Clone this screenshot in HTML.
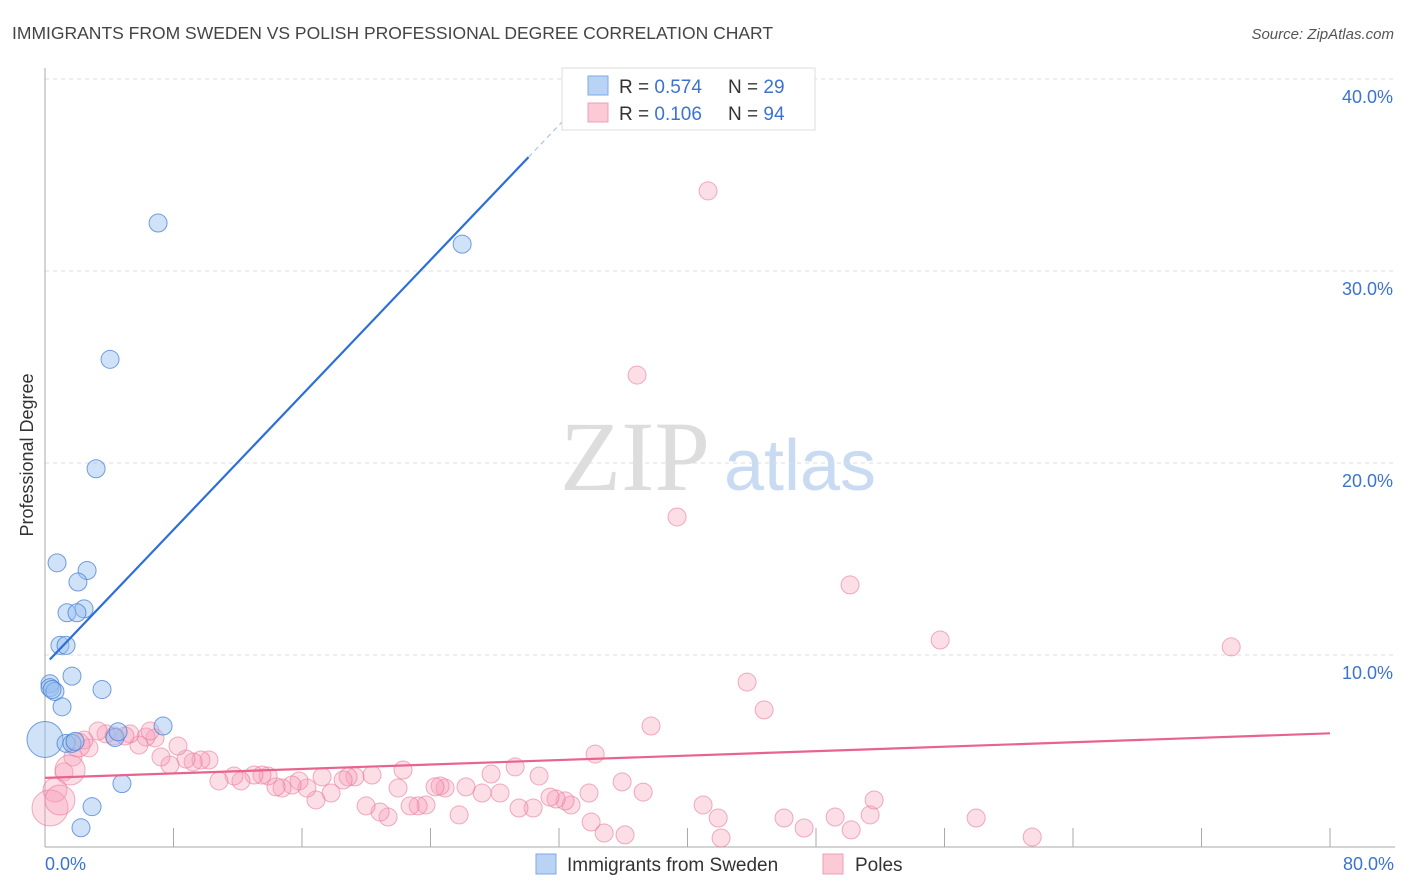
<!DOCTYPE html>
<html><head><meta charset="utf-8"><style>
body{margin:0;background:#fff;font-family:"Liberation Sans",sans-serif;}
svg{display:block}
</style></head><body>
<svg id="chart" width="1406" height="892">
<text x="12" y="39" font-size="17.5" fill="#444">IMMIGRANTS FROM SWEDEN VS POLISH PROFESSIONAL DEGREE CORRELATION CHART</text>
<text x="1394" y="39" font-size="15" fill="#555" font-style="italic" text-anchor="end">Source: ZipAtlas.com</text>
<g>
<text x="635" y="490" font-size="100" fill="#ddd" font-family="Liberation Serif,serif" text-anchor="middle">ZIP</text>
<text x="800" y="490" font-size="72" fill="#c9daf3" text-anchor="middle">atlas</text>
</g>
<g id="grid"></g>
<g id="axes"></g>
<g id="pts"></g>
<g id="lines"></g>
<text transform="translate(33,455) rotate(-90)" font-size="18" fill="#333" text-anchor="middle">Professional Degree</text>
<text x="45" y="870" font-size="18" fill="#3b73d1">0.0%</text>
<text x="1394" y="870" font-size="18" fill="#3b73d1" text-anchor="end">80.0%</text>
<g>
<rect x="562" y="68" width="253" height="62" fill="#fff" stroke="#ddd"/>
<rect x="588" y="76" width="20" height="19" fill="#b9d3f5" stroke="#7ea8e6"/>
<rect x="588" y="103" width="20" height="19" fill="#fcc9d6" stroke="#eda0b6"/>
<text x="619" y="93" font-size="19" fill="#333">R = <tspan fill="#3b73d1">0.574</tspan></text>
<text x="728" y="93" font-size="19" fill="#333">N = <tspan fill="#3b73d1">29</tspan></text>
<text x="619" y="120" font-size="19" fill="#333">R = <tspan fill="#3b73d1">0.106</tspan></text>
<text x="728" y="120" font-size="19" fill="#333">N = <tspan fill="#3b73d1">94</tspan></text>
</g>
<g>
<rect x="536" y="854" width="20" height="20" fill="#b9d3f5" stroke="#7ea8e6"/>
<text x="567" y="871" font-size="19" fill="#333">Immigrants from Sweden</text>
<rect x="823" y="854" width="20" height="20" fill="#fcc9d6" stroke="#eda0b6"/>
<text x="855" y="871" font-size="19" fill="#333">Poles</text>
</g>
</svg>
<script>
const yTicks=[10,20,30,40];
const xTicks=[0,8,16,24,32,40,48,56,64,72,80];
const swedenX=[7.04,25.97,4.05,3.18,0.75,2.62,2.05,1.37,2.43,1.99,0.93,1.31,1.68,3.55,0.31,0.31,0.62,1.06,0,1.31,1.68,4.36,4.55,7.35,4.79,2.93,2.24,1.87,0.44];
const swedenY=[32.5,31.4,25.4,19.7,14.8,14.4,13.8,12.2,12.4,12.2,10.5,10.5,8.9,8.2,8.5,8.3,8.1,7.3,5.6,5.4,5.4,5.7,6.0,6.3,3.3,2.1,1.0,5.5,8.2];
const swedenR=[9,9,9,9,9,9,9,9,9,9,9,9,9,9,9,9,9,9,18,9,9,9,9,9,9,9,9,9,9];
const polesPx=[[708,191],[637,375],[677,517],[850,585],[940,640],[1231,647],[747,682],[764,710],[651,726],[595,754],[1032,837],[976,818],[870,815],[851,830],[835,817],[804,828],[784,818],[718,818],[703,805],[874,800],[721,838],[643,792],[622,782],[625,835],[604,833],[591,822],[571,805],[589,793],[565,801],[556,799],[550,797],[539,776],[533,808],[519,808],[515,767],[500,793],[491,774],[482,793],[466,787],[459,815],[445,788],[440,786],[435,787],[426,805],[418,806],[410,806],[403,770],[398,788],[388,817],[380,812],[372,775],[366,806],[355,777],[348,777],[343,780],[331,793],[322,777],[316,800],[307,788],[299,781],[292,785],[282,788],[276,787],[268,776],[262,775],[254,775],[241,781],[234,776],[219,781],[209,760],[201,760],[193,762],[186,759],[178,746],[170,765],[161,757],[155,738],[146,737],[139,745],[130,734],[125,736],[114,736],[106,734],[98,731],[89,748],[84,740],[73,757],[64,772],[55,790],[50,808],[70,770],[78,745],[60,800],[150,731]];
const polesX=polesPx.map(p=>+((p[0]-45)/16.06).toFixed(2));
const polesY=polesPx.map(p=>+((847-p[1])/19.2).toFixed(2));
const polesR=polesX.map((x,i)=>i==89?18:(i==90||i==92)?15:(i==88||i==91)?12:9);
const swedenFit=[9.5,0.878];
const polesFit=[3.6,0.029];

const X=v=>45+v*1285/80, Y=v=>847-v*19.2;
const NS="http://www.w3.org/2000/svg";
function mk(tag,attrs,parent){const e=document.createElementNS(NS,tag);for(const k in attrs)e.setAttribute(k,attrs[k]);parent.appendChild(e);return e;}
const grid=document.getElementById('grid'),axes=document.getElementById('axes'),pts=document.getElementById('pts'),lines=document.getElementById('lines');
yTicks.forEach(t=>{
 const l=mk('line',{x1:45,x2:1395,y1:Y(t),y2:Y(t),stroke:'#ddd','stroke-dasharray':'4,4'},grid);
 
 
 const tx=mk('text',{x:1393,y:Y(t)+24,'font-size':18,fill:'#3b73d1','text-anchor':'end'},grid);
 tx.textContent=t.toFixed(1)+'%';
 
 
});
const ya=mk('line',{x1:45,x2:45,y1:68,y2:847,stroke:'#aaa'},axes);


const xa=mk('line',{x1:45,x2:1395,y1:847,y2:847,stroke:'#aaa'},axes);


xTicks.forEach(t=>{
 const l=mk('line',{x1:X(t),x2:X(t),y1:828,y2:847,stroke:'#aaa'},axes);
 
 
});
polesX.forEach((x,i)=>{
 const c=mk('circle',{cx:X(x),cy:Y(polesY[i]),r:polesR[i],fill:'rgba(247,160,185,0.35)',stroke:'rgba(232,120,155,0.6)','stroke-width':1},pts);
 
 
});
swedenX.forEach((x,i)=>{
 const c=mk('circle',{cx:X(x),cy:Y(swedenY[i]),r:swedenR[i],fill:'rgba(150,190,240,0.45)',stroke:'rgba(60,120,210,0.7)','stroke-width':1},pts);
 
 
});
const bl=mk('line',{x1:X(0.3),y1:Y(swedenFit[0]+swedenFit[1]*0.3),x2:X(30.1),y2:Y(swedenFit[0]+swedenFit[1]*30.1),stroke:'#2c6fd6','stroke-width':2.2},lines);


const bd=mk('line',{x1:X(30.1),y1:Y(swedenFit[0]+swedenFit[1]*30.1),x2:X(33),y2:Y(swedenFit[0]+swedenFit[1]*33),stroke:'#9bbbe8','stroke-width':1,'stroke-dasharray':'5,4'},lines);


const pl=mk('line',{x1:X(0),y1:Y(polesFit[0]),x2:X(80),y2:Y(polesFit[0]+polesFit[1]*80),stroke:'#e8648e','stroke-width':2.2},lines);


</script>
</body></html>
